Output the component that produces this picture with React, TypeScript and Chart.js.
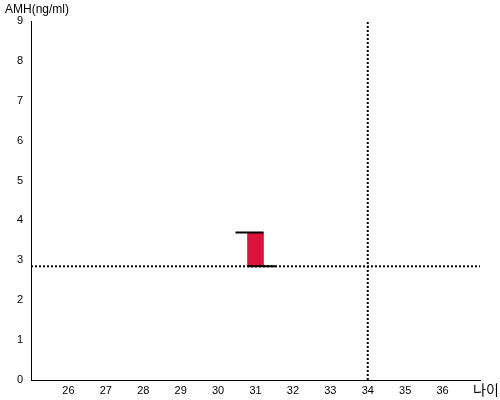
import React, { useEffect, useRef } from "react";
import { Chart, registerables } from "chart.js";

Chart.register(...registerables);

const ageValue = 31;
const amhRange: [number, number] = [2.85, 3.7];
const refAmh = 2.85;
const refAge = 34;
const xMin = 25;
const xMax = 37;
const yMin = 0;
const yMax = 9;
const yAxisTitle = "AMH(ng/ml)";
const xAxisTitle = "나이";

const FONT = "'Liberation Sans', Arial, sans-serif";

export default function App() {
  const ref = useRef<HTMLCanvasElement | null>(null);
  useEffect(() => {
    if (!ref.current) return;
    const capsPlugin = {
      id: "capsAndTitles",
      afterDatasetsDraw(chart: any) {
        const ctx = chart.ctx;
        const x = chart.scales.x;
        const y = chart.scales.y;
        const cx = x.getPixelForValue(ageValue);
        const half = 8;
        const ext = 12;
        const yTop = y.getPixelForValue(amhRange[1]);
        const yBot = y.getPixelForValue(amhRange[0]);
        ctx.save();
        ctx.strokeStyle = "#000";
        ctx.lineWidth = 2;
        ctx.beginPath();
        ctx.moveTo(cx - half - ext, yTop);
        ctx.lineTo(cx + half, yTop);
        ctx.moveTo(cx - half, yBot);
        ctx.lineTo(cx + half + ext, yBot);
        ctx.stroke();
        ctx.restore();
      },
      afterDraw(chart: any) {
        const ctx = chart.ctx;
        ctx.save();
        ctx.fillStyle = "#000";
        ctx.textBaseline = "top";
        ctx.textAlign = "left";
        ctx.font = `12px ${FONT}`;
        ctx.fillText(yAxisTitle, 5, 4);
        ctx.font = `14px 'Noto Sans CJK KR', sans-serif`;
        ctx.fillText(xAxisTitle, 473, 383);
        ctx.restore();
      },
    };
    const chart = new Chart(ref.current, {
      type: "bar",
      data: {
        datasets: [
          {
            type: "bar",
            data: [{ x: ageValue, y: amhRange }] as any,
            backgroundColor: "#DC143C",
            borderWidth: 0,
            barThickness: 16,
            order: 2,
          } as any,
          {
            type: "line",
            data: [
              { x: xMin, y: refAmh },
              { x: xMax, y: refAmh },
            ],
            borderColor: "#000",
            borderWidth: 2,
            borderDash: [2, 2],
            pointRadius: 0,
            order: 1,
          } as any,
          {
            type: "line",
            data: [
              { x: refAge, y: yMin },
              { x: refAge, y: yMax },
            ],
            borderColor: "#000",
            borderWidth: 2,
            borderDash: [2, 2],
            pointRadius: 0,
            order: 1,
          } as any,
        ],
      },
      options: {
        responsive: false,
        animation: false,
        layout: { padding: { left: 0, right: 20, top: 21, bottom: 0 } },
        plugins: { legend: { display: false }, tooltip: { enabled: false } },
        scales: {
          x: {
            type: "linear",
            min: xMin,
            max: xMax,
            offset: false,
            grid: { display: false, drawTicks: false },
            border: { display: true, color: "#000", width: 1 },
            ticks: {
              stepSize: 1,
              autoSkip: false,
              maxRotation: 0,
              padding: 4,
              color: "#000",
              font: { family: FONT, size: 11 },
              callback: (v: any) => (v === xMin || v === xMax ? "" : String(v)),
            },
            afterFit: (s: any) => {
              s.height = 20;
            },
          },
          y: {
            type: "linear",
            min: yMin,
            max: yMax,
            grid: { display: false, drawTicks: false },
            border: { display: true, color: "#000", width: 1 },
            ticks: {
              stepSize: 1,
              padding: 8,
              color: "#000",
              font: { family: FONT, size: 11 },
            },
            afterFit: (s: any) => {
              s.width = 31;
            },
          },
        },
      } as any,
      plugins: [capsPlugin],
    });
    return () => chart.destroy();
  }, []);
  return (
    <div style={{ position: "fixed", left: 0, top: 0, width: 500, height: 400, background: "#fff" }}>
      <canvas ref={ref} width={500} height={400} style={{ display: "block" }} />
    </div>
  );
}
